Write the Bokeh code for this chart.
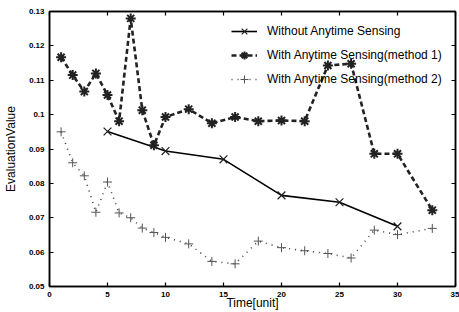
from bokeh.plotting import figure
from bokeh.models import LinearAxis, FixedTicker, Range1d, Legend, LegendItem
from bokeh.embed import file_html
from bokeh.resources import INLINE

# ---- data ----
time_without = [5, 10, 15, 20, 25, 30]
value_without = [0.0951, 0.0894, 0.0870, 0.0765, 0.0745, 0.0675]

time_m1 = [1, 2, 3, 4, 5, 6, 7, 8, 9, 10, 12, 14, 16, 18, 20, 22, 24, 26, 28, 30, 33]
value_m1 = [0.1167, 0.1115, 0.1067, 0.1120, 0.1057, 0.0981, 0.1280, 0.1013, 0.0911,
            0.0993, 0.1016, 0.0975, 0.0993, 0.0981, 0.0983, 0.0981, 0.1143, 0.1148,
            0.0886, 0.0886, 0.0722]

time_m2 = [1, 2, 3, 4, 5, 6, 7, 8, 9, 10, 12, 14, 16, 18, 20, 22, 24, 26, 28, 30, 33]
value_m2 = [0.0950, 0.0860, 0.0822, 0.0716, 0.0804, 0.0714, 0.0700, 0.0670, 0.0657,
            0.0643, 0.0624, 0.0573, 0.0566, 0.0632, 0.0613, 0.0604, 0.0596, 0.0583,
            0.0664, 0.0651, 0.0669]

x_ticks = [0, 5, 10, 15, 20, 25, 30, 35]
y_ticks = [0.05, 0.06, 0.07, 0.08, 0.09, 0.10, 0.11, 0.12, 0.13]
y_tick_labels = {0.05: "0.05", 0.06: "0.06", 0.07: "0.07", 0.08: "0.08", 0.09: "0.09",
                 0.10: "0.1", 0.11: "0.11", 0.12: "0.12", 0.13: "0.13"}

series_names = ["Without Anytime Sensing",
                "With Anytime Sensing(method 1)",
                "With Anytime Sensing(method 2)"]

FONT = "Liberation Sans"

p = figure(width=459, height=312, output_backend="svg", toolbar_location=None,
           x_range=Range1d(0, 35), y_range=Range1d(0.05, 0.13),
           min_border_left=48, min_border_right=4, min_border_top=11, min_border_bottom=26,
           x_axis_label="Time[unit]", y_axis_label="EvaluationValue")
p.background_fill_color = "white"
p.border_fill_color = "white"
p.outline_line_color = "black"
p.outline_line_width = 1.5
p.xgrid.visible = False
p.ygrid.visible = False

def style_axis(ax, labels=True):
    ax.axis_line_color = "black"
    ax.axis_line_width = 1.5
    ax.major_tick_in = 4
    ax.major_tick_out = 0
    ax.major_tick_line_width = 1.2
    ax.minor_tick_line_color = None
    ax.major_label_text_font = FONT
    ax.major_label_text_font_size = "8px" if labels else "0px"
    ax.major_label_text_font_style = "bold"
    ax.major_label_text_color = "black" if labels else None
    ax.axis_label_text_font = FONT
    ax.axis_label_text_font_size = "12px"
    ax.axis_label_text_font_style = "normal"
    ax.axis_label_text_color = "black"

xa = p.xaxis[0]
xa.ticker = FixedTicker(ticks=x_ticks)
style_axis(xa)
xa.major_label_standoff = 5
xa.axis_label_standoff = -4

ya = p.yaxis[0]
ya.ticker = FixedTicker(ticks=y_ticks)
ya.major_label_overrides = y_tick_labels
style_axis(ya)
ya.major_label_standoff = 5
ya.axis_label_standoff = 8

top = LinearAxis(ticker=FixedTicker(ticks=x_ticks))
style_axis(top, labels=False)
top.major_label_standoff = 0
p.add_layout(top, "above")

right = LinearAxis(ticker=FixedTicker(ticks=y_ticks))
style_axis(right, labels=False)
right.major_label_standoff = 0
p.add_layout(right, "right")

# method 2: dotted gray with small crosses
l2 = p.line(time_m2, value_m2, line_color="#444444", line_width=1.6, line_dash="1 5")
s2 = p.scatter(time_m2, value_m2, marker="cross", size=9, line_color="#555555",
               line_width=1, fill_color=None)

# without: solid black with x marks
l0 = p.line(time_without, value_without, line_color="black", line_width=1.6)
s0 = p.scatter(time_without, value_without, marker="x", size=11, line_color="#222222",
               line_width=1.2)

# method 1: thick dashed with asterisks
l1 = p.line(time_m1, value_m1, line_color="#222222", line_width=2.6, line_dash="5 3")
s1 = p.scatter(time_m1, value_m1, marker="asterisk", size=10, line_color="#222222",
               line_width=2)

legend = Legend(items=[
    LegendItem(label=series_names[0], renderers=[l0, s0]),
    LegendItem(label=series_names[1], renderers=[l1, s1]),
    LegendItem(label=series_names[2], renderers=[l2, s2]),
])
legend.location = (182, 197)
legend.border_line_color = None
legend.background_fill_alpha = 0
legend.padding = 2
legend.margin = 0
legend.spacing = 4
legend.label_height = 20
legend.glyph_height = 20
legend.glyph_width = 26
legend.label_standoff = 10
legend.label_text_font = FONT
legend.label_text_font_size = "12px"
legend.label_text_color = "black"
p.add_layout(legend)

open("out.html", "w").write(file_html(p, INLINE))
